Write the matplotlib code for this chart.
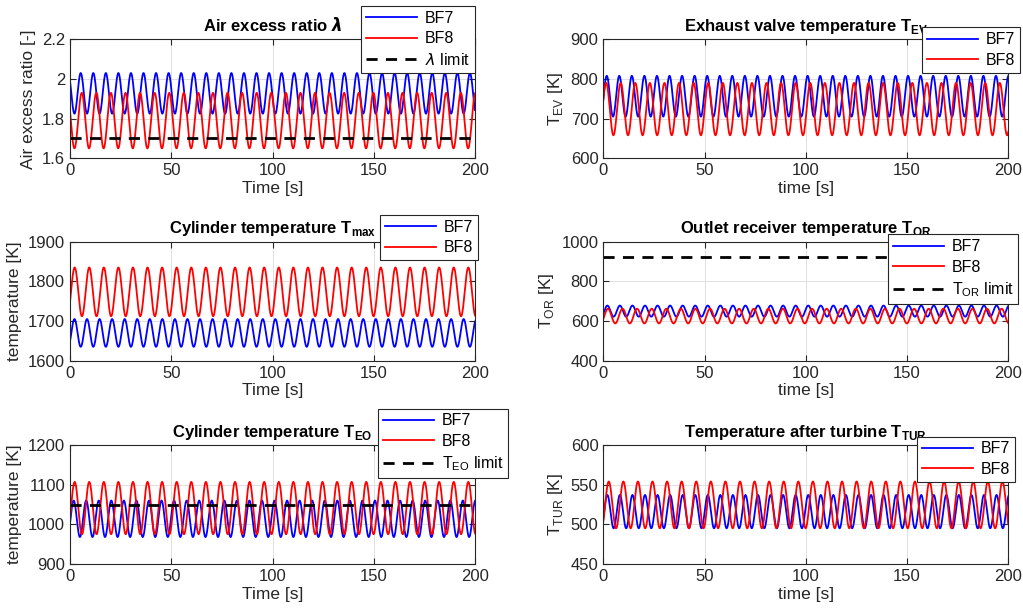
import matplotlib.pyplot as plt
import numpy as np

plt.rcParams['font.family'] = ['Liberation Sans', 'DejaVu Sans']
plt.rcParams['mathtext.fontset'] = 'custom'
plt.rcParams['mathtext.rm'] = 'Liberation Sans'
plt.rcParams['mathtext.bf'] = 'Liberation Sans:bold'
plt.rcParams['mathtext.it'] = 'DejaVu Sans:italic'
plt.rcParams['mathtext.bfit'] = 'DejaVu Sans:italic:bold'
plt.rcParams['font.size'] = 10

# Simulation length [s]
T_END = 200

# Oscillation periods [s]
period_bf7 = 6.2
period_bf8 = 7.2

# Per panel: [trough, crest, time of one crest in s]
lam_bf7 = [1.825, 2.03, 5.3]
lam_bf8 = [1.65, 1.93, 5.8]
lam_limit = 1.7

tev_bf7 = [705, 808, 1.7]
tev_bf8 = [658, 790, 1.4]

tmax_bf7 = [1635, 1705, 2.2]
tmax_bf8 = [1712, 1835, 2.3]

tor_bf7 = [622, 678, 2.0]
tor_bf8 = [588, 662, 2.3]
tor_limit = 923

teo_bf7 = [968, 1060, 1.8]
teo_bf8 = [975, 1107, 2.3]
teo_limit = 1050

ttur_bf7 = [495, 537, 2.0]
ttur_bf8 = [495, 554, 2.7]

x_ticks = [0, 50, 100, 150, 200]

t = np.linspace(0, T_END, 4001)


def wave(p, period):
    lo, hi, tp = p
    return lo + (hi - lo) * (1 + np.cos(2 * np.pi * (t - tp) / period)) / 2


fig = plt.figure(figsize=(10.23, 6.16), dpi=100)

W = 405 / 1023
H = 119 / 616
lefts = [70 / 1023, 603.3 / 1023]
bottoms = [1 - 158.3 / 616, 1 - 360.7 / 616, 1 - 564 / 616]

panels = [
    # col, row, title, ylabel, xlabel, ylim, yticks, bf7, bf8, limit, limit label, legend anchor
    (0, 0, r'Air excess ratio $\mathbfit{\lambda}$', 'Air excess ratio [-]', 'Time [s]',
     (1.6, 2.2), [1.6, 1.8, 2.0, 2.2], lam_bf7, lam_bf8, lam_limit, r'$\lambda$ limit', (1.0, 1.28)),
    (1, 0, r'Exhaust valve temperature T$_\mathbf{EV}$', r'T$_{\rm EV}$ [K]', 'time [s]',
     (600, 900), [600, 700, 800, 900], tev_bf7, tev_bf8, None, None, (1.029, 1.10)),
    (0, 1, r'Cylinder temperature T$_\mathbf{max}$', 'temperature [K]', 'Time [s]',
     (1600, 1900), [1600, 1700, 1800, 1900], tmax_bf7, tmax_bf8, None, None, (1.007, 1.224)),
    (1, 1, r'Outlet receiver temperature T$_\mathbf{OR}$', r'T$_{\rm OR}$ [K]', 'time [s]',
     (400, 1000), [400, 600, 800, 1000], tor_bf7, tor_bf8, tor_limit, r'T$_{\rm OR}$ limit', (1.025, 1.062)),
    (0, 2, r'Cylinder temperature T$_\mathbf{EO}$', 'temperature [K]', 'Time [s]',
     (900, 1200), [900, 1000, 1100, 1200], teo_bf7, teo_bf8, teo_limit, r'T$_{\rm EO}$ limit', (1.081, 1.306)),
    (1, 2, r'Temperature after turbine T$_\mathbf{TUR}$', r'T$_{\rm TUR}$ [K]', 'time [s]',
     (450, 600), [450, 500, 550, 600], ttur_bf7, ttur_bf8, None, None, (1.017, 1.07)),
]

dark = '#262626'

for col, row, title, ylabel, xlabel, ylim, yticks, bf7, bf8, limit, lim_label, anchor in panels:
    ax = fig.add_axes([lefts[col], bottoms[row], W, H])
    ax.plot(t, wave(bf7, period_bf7), color='#0000ff', lw=1.3, label='BF7')
    ax.plot(t, wave(bf8, period_bf8), color='#ff0000', lw=1.3, label='BF8')
    if limit is not None:
        ax.plot([0, T_END], [limit, limit], color='black', lw=2, linestyle=(0, (4, 3)),
                label=lim_label)
    ax.set_xlim(0, T_END)
    ax.set_ylim(*ylim)
    ax.set_xticks(x_ticks)
    ax.set_yticks(yticks)
    if row == 0 and col == 0:
        ax.set_yticklabels(['1.6', '1.8', '2', '2.2'])
    ax.grid(True, color='#dfdfdf', lw=0.7)
    ax.set_axisbelow(True)
    ax.tick_params(direction='in', length=4, top=True, right=True, colors=dark,
                   labelsize=12, width=0.8)
    for s in ax.spines.values():
        s.set_color(dark)
        s.set_linewidth(0.8)
    ax.set_title(title, fontweight='bold', fontsize=12, pad=6)
    ax.set_xlabel(xlabel, fontsize=12.5, color=dark, labelpad=2)
    ax.set_ylabel(ylabel, fontsize=12.5, color=dark, labelpad=4)
    leg = ax.legend(loc='upper right', bbox_to_anchor=anchor, borderaxespad=0,
                    fancybox=False, framealpha=1, edgecolor=dark, fontsize=11.5,
                    handlelength=3.2, borderpad=0.3, labelspacing=0.35,
                    handletextpad=0.5)
    leg.get_frame().set_linewidth(0.8)

plt.savefig('out.png', dpi=100)
plt.close()
